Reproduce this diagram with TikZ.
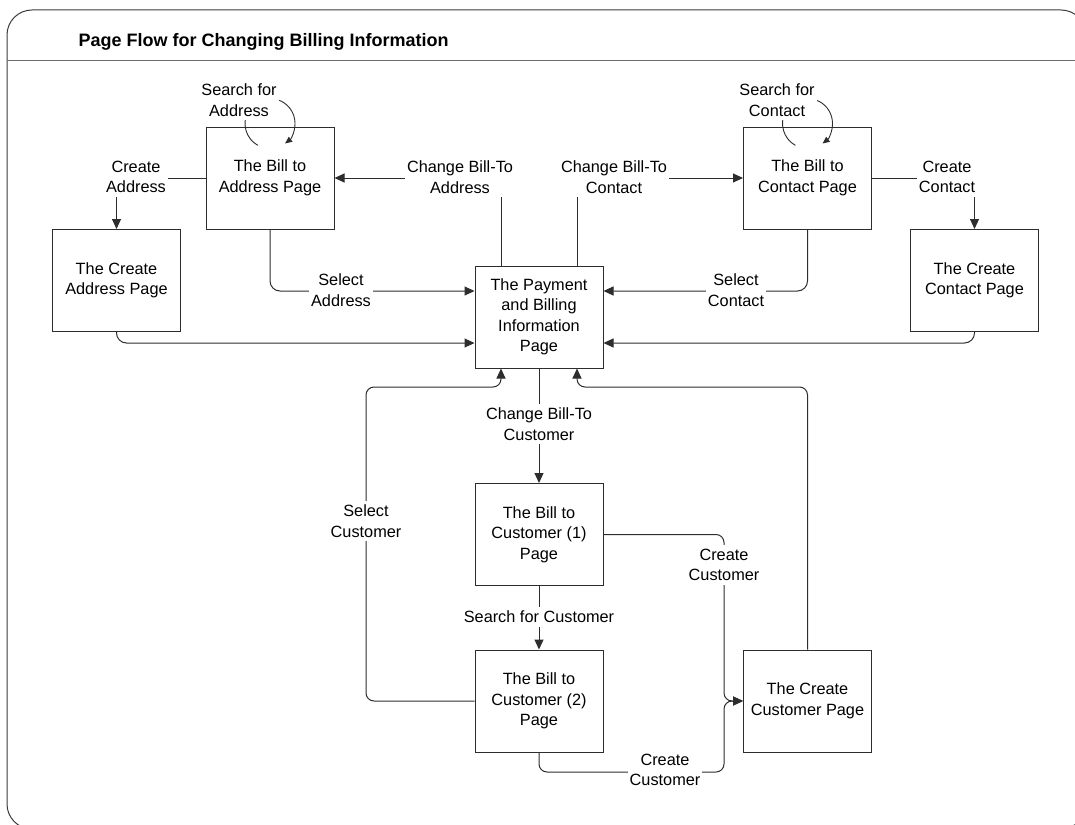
\documentclass[tikz,border=0pt]{standalone}
\usepackage{fontspec}
\setmainfont{Liberation Sans}
\usetikzlibrary{arrows.meta}
\definecolor{linec}{RGB}{45,45,45}
\definecolor{framec}{RGB}{60,60,60}
\definecolor{rulec}{RGB}{110,110,110}
\newcommand{\flowfont}{\fontsize{16.3}{20.5}\selectfont}
\tikzset{
  x=1pt, y=1pt,
  pagebox/.style={draw=linec, line width=1pt, fill=white, minimum width=128pt,
    minimum height=102pt, inner sep=0pt, align=center, font=\flowfont},
  lbl/.style={fill=white, inner xsep=2pt, inner ysep=4pt, align=center, font=\flowfont},
  flow/.style={draw=linec, line width=1pt, -{Triangle[length=10pt,width=9pt]}},
  loopflow/.style={draw=linec, line width=0.9pt, -{Triangle[length=7pt,width=6pt]}},
  rc/.style={rounded corners=10pt}
}
\begin{document}
\begin{tikzpicture}
\useasboundingbox (0,0) rectangle (1075,-824);
% outer frame and header rule
\begin{scope}
  \clip (0,0) rectangle (1075,-824);
  \draw[framec, line width=1pt, rounded corners=25pt] (7,-10) rectangle (1086,-829);
  \draw[rulec, line width=1pt] (7,-61) -- (1075,-61);
\end{scope}
\node[anchor=base west, font=\bfseries\fontsize{18}{22}\selectfont] (title) at (75,-46.5)
  {Page Flow for Changing Billing Information};

% pages
\node[pagebox] (addr)  at (270,-178)   {The Bill to\\Address Page};
\node[pagebox] (caddr) at (116.5,-280.5) {The Create\\Address Page};
\node[pagebox] (pay)   at (539,-317)   {The Payment\\and Billing\\Information\\Page};
\node[pagebox] (cont)  at (807.5,-178) {The Bill to\\Contact Page};
\node[pagebox] (ccont) at (974.5,-280.5) {The Create\\Contact Page};
\node[pagebox] (cust1) at (539,-534.5) {The Bill to\\Customer (1)\\Page};
\node[pagebox] (cust2) at (539,-701)   {The Bill to\\Customer (2)\\Page};
\node[pagebox] (ccust) at (807.5,-701) {The Create\\Customer Page};

% bend points
\coordinate (selbend) at (366,-387);
\coordinate (ccbend)  at (807.5,-387);
\coordinate (mergex)  at (724,-701);
\coordinate (lowbend) at (539,-772);

% address side
\draw[flow] ([xshift=-38pt]pay.north) |- (addr.east);
\draw[flow] (addr.west) -| (caddr.north);
\draw[flow, rc] (addr.south) |- ([yshift=26pt]pay.west);
\draw[flow, rc] (caddr.south) |- ([yshift=-26pt]pay.west);
\draw[loopflow] ([yshift=3pt]addr.north) ++(241:25pt) arc[start angle=241, end angle=-53, radius=25pt];

% contact side
\draw[flow] ([xshift=38pt]pay.north) |- (cont.west);
\draw[flow] (cont.east) -| (ccont.north);
\draw[flow, rc] (cont.south) |- ([yshift=26pt]pay.east);
\draw[flow, rc] (ccont.south) |- ([yshift=-26pt]pay.east);
\draw[loopflow] ([yshift=3pt]cont.north) ++(241:25pt) arc[start angle=241, end angle=-53, radius=25pt];

% customer flow
\draw[flow] (pay.south) -- (cust1.north);
\draw[flow] (cust1.south) -- (cust2.north);
\draw[flow, rounded corners=8pt] (cust2.west) -| (selbend) -| ([xshift=-38pt]pay.south);
\draw[flow, rounded corners=8pt] (ccust.north) -- (ccbend) -| ([xshift=38pt]pay.south);
\draw[flow, rounded corners=8pt] (cust1.east) -| (mergex) -- (ccust.west);
\draw[flow, rounded corners=8pt] (cust2.south) -- (lowbend) -| (mergex) -- (ccust.west);

% connector labels
\node[lbl] (lsa)  at (239,-100)  {Search for\\Address};
\node[lbl] (lsc)  at (777,-100)  {Search for\\Contact};
\node[lbl] (lca)  at (136,-177)  {Create\\Address};
\node[lbl] (lcba) at (460,-177)  {Change Bill-To\\Address};
\node[lbl] (lcbc) at (614,-177)  {Change Bill-To\\Contact};
\node[lbl] (lcc)  at (947,-177)  {Create\\Contact};
\node[lbl] (lsla) at (341,-290)  {Select\\Address};
\node[lbl] (lslc) at (736,-290)  {Select\\Contact};
\node[lbl] (lcbu) at (539,-424)  {Change Bill-To\\Customer};
\node[lbl] (lslu) at (366,-521)  {Select\\Customer};
\node[lbl] (lccu) at (724,-565)  {Create\\Customer};
\node[lbl] (lsfc) at (539,-617)  {Search for Customer};
\node[lbl] (lccl) at (665,-770)  {Create\\Customer};
\end{tikzpicture}
\end{document}
